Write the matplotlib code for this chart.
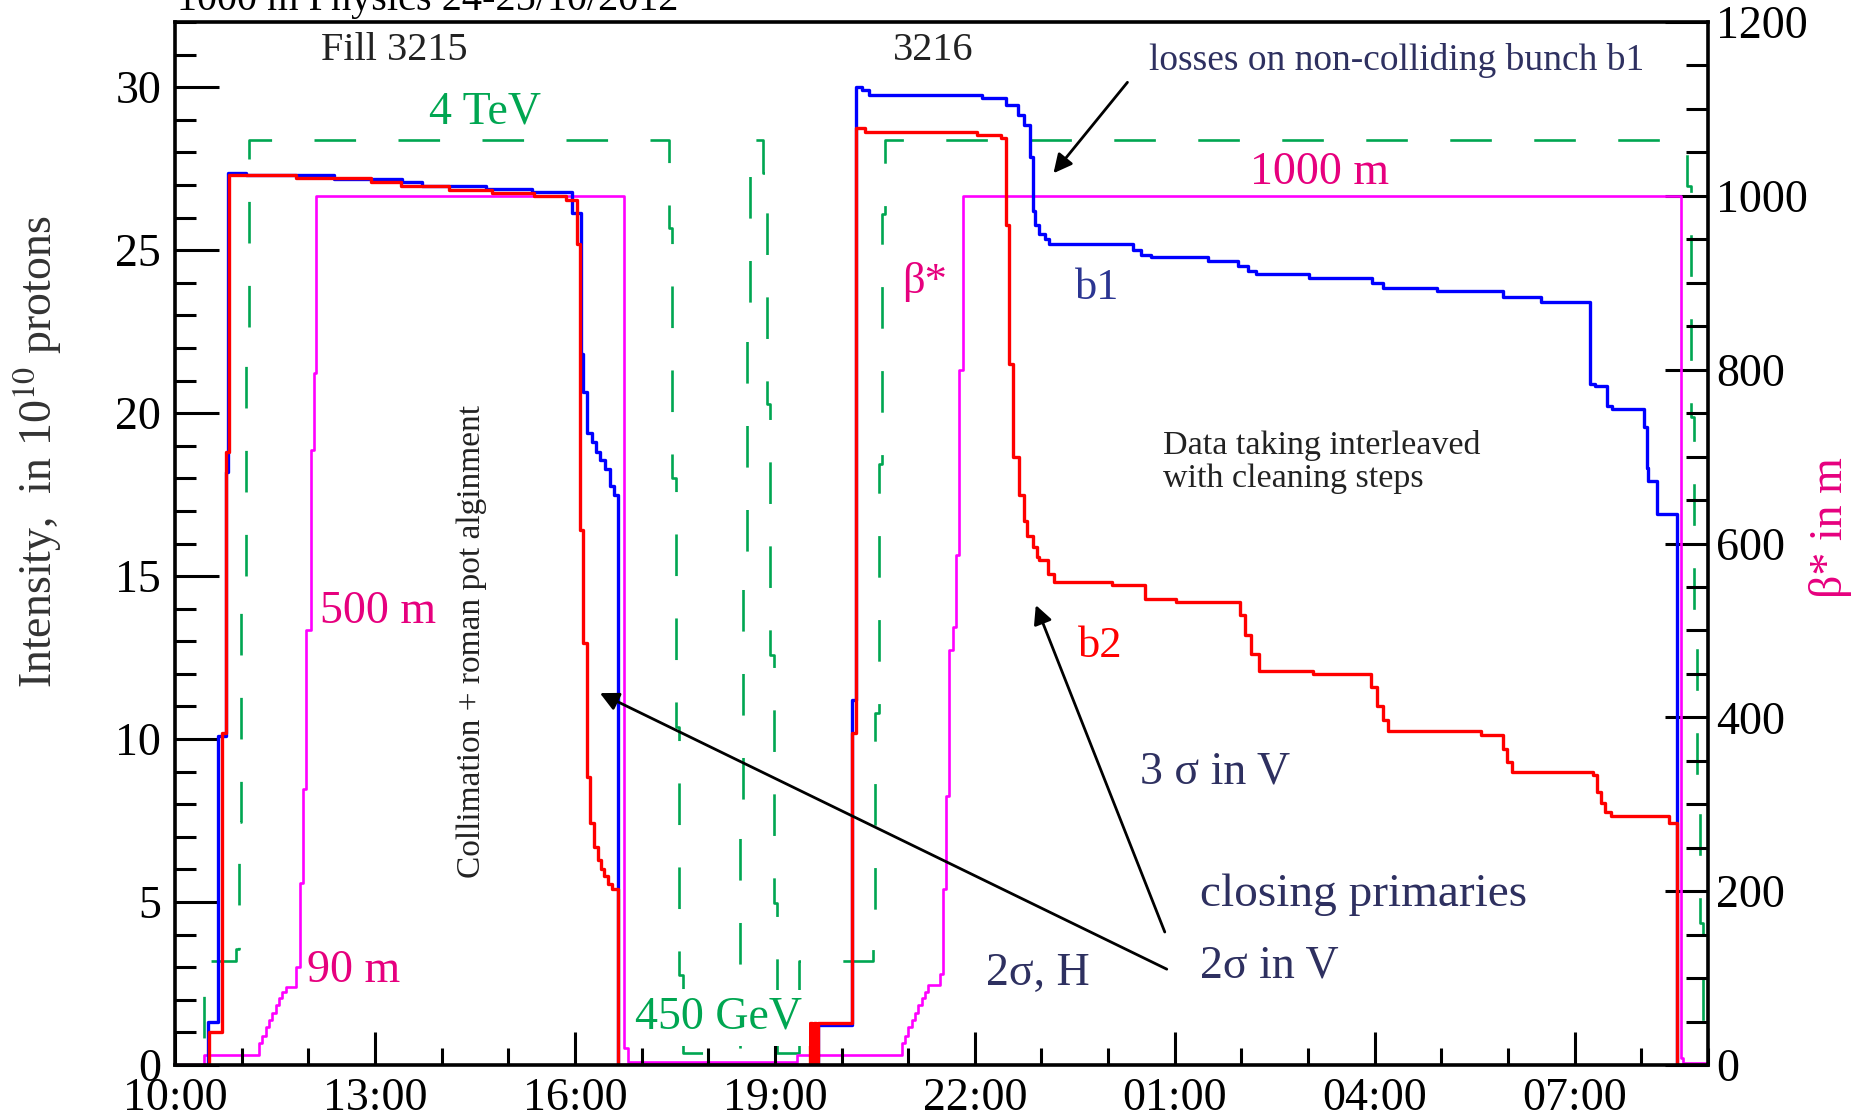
import matplotlib
matplotlib.use('Agg')
import matplotlib.pyplot as plt
from matplotlib.ticker import MultipleLocator

plt.rcParams['font.family'] = ['Liberation Serif', 'DejaVu Serif']
plt.rcParams['mathtext.fontset'] = 'stix'

# ---------------- data (time in decimal hours from 24/10 00:00) ----------------
time_labels = ["10:00", "13:00", "16:00", "19:00", "22:00", "01:00", "04:00", "07:00"]
time_ticks = [10, 13, 16, 19, 22, 25, 28, 31]

# beam 1 intensity (1e10 protons)
t_b1 = [10.00, 10.50, 10.65, 10.76, 10.80, 11.07, 12.39, 13.40, 13.70, 14.67, 15.35,
        15.96, 16.085, 16.125, 16.18, 16.26, 16.32, 16.38, 16.45, 16.53, 16.58, 16.64,
        16.645, 19.65, 20.15, 20.21, 20.30, 20.41, 22.11, 22.47, 22.65, 22.74, 22.83,
        22.87, 22.91, 22.96, 23.05, 23.11, 24.38, 24.50, 24.65, 25.50, 25.95, 26.10,
        26.22, 27.02, 27.96, 28.13, 28.94, 29.92, 30.50, 31.23, 31.30, 31.48, 31.56,
        32.04, 32.08, 32.10, 32.23, 32.53, 33.00]
i_b1 = [0.0, 1.32, 10.1, 18.2, 27.38, 27.30, 27.18, 27.08, 26.98, 26.88, 26.78,
        26.13, 21.8, 20.65, 19.4, 19.1, 18.8, 18.55, 18.3, 17.76, 17.5, 5.4,
        0.0, 1.22, 11.2, 30.0, 29.9, 29.77, 29.66, 29.44, 29.16, 28.83, 27.85,
        26.2, 25.77, 25.5, 25.33, 25.19, 25.0, 24.85, 24.78, 24.67, 24.5, 24.35,
        24.27, 24.16, 24.0, 23.85, 23.74, 23.55, 23.4, 20.9, 20.84, 20.23, 20.12,
        19.58, 18.32, 17.93, 16.89, 0.0, 0.0]

# beam 2 intensity (1e10 protons)
t_b2 = [10.00, 10.51, 10.70, 10.76, 10.81, 11.81, 12.94, 13.39, 14.11, 14.75, 15.39,
        15.86, 16.03, 16.075, 16.12, 16.18, 16.23, 16.29, 16.35, 16.39, 16.44, 16.50,
        16.56, 16.64, 19.53, 19.56, 19.59, 19.62, 19.64, 20.15, 20.21, 20.35, 22.03,
        22.39, 22.47, 22.52, 22.57, 22.66, 22.74, 22.79, 22.88, 22.93, 22.97, 23.10,
        23.19, 24.06, 24.55, 25.02, 25.98, 26.06, 26.14, 26.26, 27.08, 27.95, 28.03,
        28.12, 28.20, 29.59, 29.93, 29.99, 30.06, 31.27, 31.33, 31.40, 31.46, 31.55,
        32.41, 32.53, 33.00]
i_b2 = [0.0, 1.0, 10.2, 18.8, 27.3, 27.2, 27.08, 26.96, 26.86, 26.76, 26.66,
        26.55, 25.2, 16.4, 12.95, 8.84, 7.42, 6.70, 6.3, 6.0, 5.8, 5.55,
        5.4, 0.0, 1.3, 0.0, 1.3, 0.0, 1.3, 10.2, 28.75, 28.63, 28.53,
        28.43, 25.77, 21.5, 18.65, 17.5, 16.69, 16.23, 15.9, 15.58, 15.49, 15.06,
        14.82, 14.72, 14.31, 14.2, 13.8, 13.2, 12.6, 12.1, 12.0, 11.6, 11.0,
        10.6, 10.25, 10.12, 9.7, 9.3, 9.0, 8.9, 8.37, 8.04, 7.75, 7.65,
        7.44, 0.0, 0.0]

# beam energy (GeV)
t_E = [10.42, 10.43, 10.91, 10.96, 10.985, 11.06, 11.11, 17.41, 17.46, 17.51, 17.56,
       17.62, 18.07, 18.475, 18.525, 18.575, 18.625, 18.675, 18.825, 18.885, 18.925,
       18.99, 19.035, 19.36, 20.475, 20.50, 20.56, 20.60, 20.65, 32.68, 32.75, 32.79,
       32.83, 32.88, 32.93, 32.95]
E_GeV = [0, 450, 500, 1050, 2100, 3185, 4000, 3620, 2540, 1460, 390,
         52, 65, 1030, 2120, 3200, 3980, 4000, 3855, 2860, 1775,
         700, 52, 450, 670, 1520, 2600, 3680, 4000, 3800, 2800, 1900,
         1250, 615, 110, 110]

# beta* (m)
t_bs = [10.42, 10.43, 11.26, 11.31, 11.36, 11.41, 11.46, 11.51, 11.56, 11.61, 11.66,
        11.82, 11.87, 11.92, 11.97, 12.04, 12.09, 12.12, 16.735, 16.80, 19.33,
        20.90, 20.95, 21.00, 21.05, 21.10, 21.15, 21.20, 21.25, 21.30, 21.47,
        21.52, 21.57, 21.62, 21.67, 21.72, 21.77, 21.82, 32.59, 32.62, 33.00]
beta_m = [0, 11, 25, 33, 44, 52, 60, 69, 77, 84, 90,
          113, 209, 318, 500, 708, 796, 1000, 19, 3, 11,
          25, 33, 44, 52, 60, 69, 77, 84, 92, 105,
          203, 309, 477, 504, 587, 800, 1000, 8, 2, 2]

# ---------------- colours ----------------
C_B1 = '#0000ff'
C_B2 = '#ff0000'
C_BETA = '#ff00ff'
C_E = '#00a651'
C_PINK = '#e6007e'
C_NAVY = '#2e3060'
C_B1TXT = '#2b3592'
C_TXT = '#222222'

# ---------------- figure ----------------
W, H = 1864, 1119
fig = plt.figure(figsize=(W / 100, H / 100), dpi=100)
L, R, T, B = 175, 1708, 22, 1065
rect = [L / W, 1 - B / H, (R - L) / W, (B - T) / H]

axE = fig.add_axes(rect)
axB = fig.add_axes(rect, sharex=axE)
ax = fig.add_axes(rect, sharex=axE)
axE.set_zorder(1)
axB.set_zorder(2)
ax.set_zorder(3)
for a in (axE, axB, ax):
    a.patch.set_visible(False)

# energy (hidden scale)
axE.plot(t_E, E_GeV, drawstyle='steps-post', color=C_E, lw=1.9,
         linestyle=(21.2, (15.76, 16.07)), dash_capstyle='butt')
axE.set_ylim(0, 4510)
axE.axis('off')

# beta*
axB.plot(t_bs, beta_m, drawstyle='steps-post', color=C_BETA, lw=1.9)
axB.set_ylim(0, 1200)
axB.yaxis.tick_right()
axB.xaxis.set_visible(False)
for s in axB.spines.values():
    s.set_visible(False)
axB.set_yticks([0, 200, 400, 600, 800, 1000, 1200])
axB.yaxis.set_minor_locator(MultipleLocator(50))
axB.tick_params(axis='y', which='major', direction='in', length=31, width=2.2,
                labelsize=33, pad=6, right=True, left=False)
axB.tick_params(axis='y', which='minor', direction='in', length=16, width=2.2,
                right=True, left=False)

# intensities
ax.plot(t_b1, i_b1, drawstyle='steps-post', color=C_B1, lw=2.4)
ax.plot(t_b2, i_b2, drawstyle='steps-post', color=C_B2, lw=2.4)
ax.set_xlim(10, 33)
ax.set_ylim(0, 32)
ax.set_xticks(time_ticks)
ax.set_xticklabels(time_labels)
ax.xaxis.set_minor_locator(MultipleLocator(1))
ax.set_yticks([0, 5, 10, 15, 20, 25, 30])
ax.yaxis.set_minor_locator(MultipleLocator(1))
ax.tick_params(axis='y', which='major', direction='in', length=32, width=2.2,
               labelsize=33, pad=10, left=True, right=False)
ax.tick_params(axis='y', which='minor', direction='in', length=15, width=2.2,
               left=True, right=False)
ax.tick_params(axis='x', which='major', direction='in', length=24, width=2.2,
               labelsize=33, pad=9, top=False)
ax.tick_params(axis='x', which='minor', direction='in', length=12, width=2.2,
               top=False)
for s in ax.spines.values():
    s.set_linewidth(2.6)

# ---------------- annotations ----------------
fs_big = 33
ax.text(13.285, 31.13, "Fill 3215", ha='center', va='center', fontsize=29, color=C_TXT)
ax.text(21.37, 31.13, "3216", ha='center', va='center', fontsize=29, color=C_TXT)
ax.text(14.65, 29.23, "4 TeV", ha='center', va='center', fontsize=fs_big, color=C_E)
ax.text(28.33, 30.83, "losses on non-colliding bunch b1", ha='center', va='center',
        fontsize=27, color=C_NAVY)
ax.text(27.17, 27.36, "1000 m", ha='center', va='center', fontsize=fs_big, color=C_PINK)
ax.text(23.84, 23.83, "b1", ha='center', va='center', fontsize=32, color=C_B1TXT)
ax.text(21.25, 24.02, "β*", ha='center', va='center', fontsize=32, color=C_PINK)
ax.text(24.83, 18.5, "Data taking interleaved\nwith cleaning steps", ha='left',
        va='center', fontsize=24.5, color=C_TXT, linespacing=1.12)
ax.text(14.455, 12.98, "Collimation + roman pot alginment", ha='center', va='center',
        rotation=90, fontsize=24, color=C_TXT)
ax.text(13.045, 13.9, "500 m", ha='center', va='center', fontsize=fs_big, color=C_PINK)
ax.text(12.685, 2.88, "90 m", ha='center', va='center', fontsize=fs_big, color=C_PINK)
ax.text(18.16, 1.45, "450 GeV", ha='center', va='center', fontsize=fs_big, color=C_E,
        bbox=dict(boxstyle='square,pad=0.15', facecolor='white', edgecolor='none'))
ax.text(22.945, 2.79, "2σ, H", ha='center', va='center', fontsize=fs_big, color=C_NAVY)
ax.text(25.6, 8.99, "3 σ in V", ha='center', va='center', fontsize=fs_big, color=C_NAVY)
ax.text(25.375, 4.88, "closing primaries", ha='left', va='baseline', fontsize=34,
        color=C_NAVY)
ax.text(25.375, 2.67, "2σ in V", ha='left', va='baseline', fontsize=fs_big, color=C_NAVY)
ax.text(23.875, 12.85, "b2", ha='center', va='center', fontsize=32, color=C_B2)

arrow_kw = dict(arrowstyle='-|>', color='black', lw=2.0, mutation_scale=28,
                shrinkA=0, shrinkB=0)
ax.annotate('', xy=(16.375, 11.41), xytext=(24.88, 2.94), arrowprops=arrow_kw)
ax.annotate('', xy=(22.915, 14.11), xytext=(24.85, 4.08), arrowprops=arrow_kw)
ax.annotate('', xy=(23.18, 27.36), xytext=(24.29, 30.15), arrowprops=arrow_kw)

# axis titles
fig.text(38 / W, 1 - 452 / H, "Intensity,  in 10$^{10}$ protons", rotation=90,
         ha='center', va='center', fontsize=33, color='#333333')
fig.text(1831 / W, 1 - 528 / H, "β* in m", rotation=90, ha='center', va='center',
         fontsize=33, color=C_PINK)
fig.text(177 / W, 1 - 10 / H, "1000 m Physics 24-25/10/2012", ha='left',
         va='baseline', fontsize=29, color='black')

fig.savefig('out.png', dpi=100)
